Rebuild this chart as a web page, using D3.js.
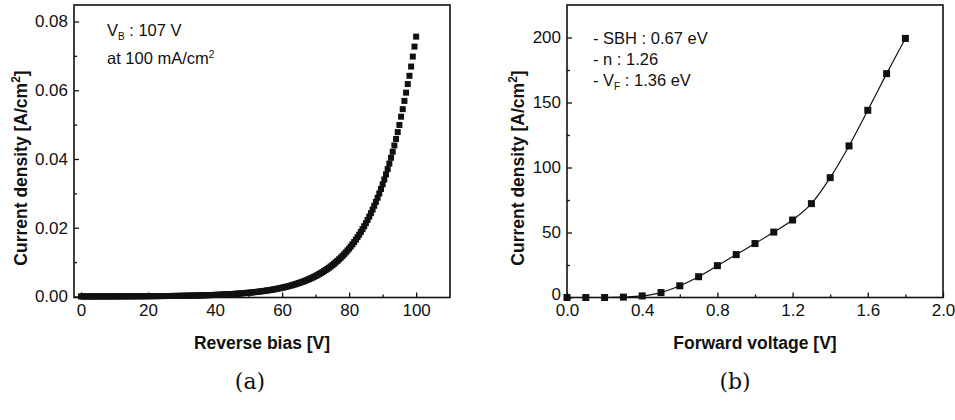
<!DOCTYPE html>
<html>
<head>
<meta charset="utf-8">
<script src="https://cdn.jsdelivr.net/npm/d3@7"></script>
<style>
  body { margin: 0; background: #fff; }
  svg { display: block; }
  .tick text { font-family: "Liberation Sans", Arial, sans-serif; font-size: 17px; fill: #111; }
  .tick line { stroke: #111; stroke-width: 1.3; }
  .ttl { font-family: "Liberation Sans", Arial, sans-serif; font-size: 17.5px; font-weight: bold; fill: #111; }
  .note { font-family: "Liberation Sans", Arial, sans-serif; font-size: 16.5px; fill: #111; }
  .cap { font-family: "DejaVu Serif", "Liberation Serif", serif; font-size: 22px; fill: #111; }
</style>
</head>
<body>
<div id="chart"></div>
<script>
// (a) reverse sweep, 0.5 V steps from 0 to 100 V
var reverseBias = d3.range(0, 100.01, 0.5);
var reverseCurrent = [
  0.00001,0.00001,0.00001,0.00001,0.00001,0.00001,0.00001,0.00001,0.00001,0.00001,
  0.00002,0.00002,0.00002,0.00002,0.00002,0.00002,0.00002,0.00002,0.00002,0.00002,
  0.00003,0.00003,0.00003,0.00003,0.00004,0.00004,0.00004,0.00004,0.00004,0.00005,
  0.00005,0.00005,0.00005,0.00006,0.00006,0.00006,0.00007,0.00007,0.00007,0.00008,
  0.00008,0.00008,0.00009,0.00009,0.00010,0.00010,0.00011,0.00011,0.00012,0.00012,
  0.00013,0.00013,0.00014,0.00014,0.00015,0.00015,0.00016,0.00017,0.00018,0.00019,
  0.00019,0.00020,0.00021,0.00022,0.00023,0.00024,0.00025,0.00026,0.00028,0.00029,
  0.00030,0.00031,0.00033,0.00034,0.00036,0.00037,0.00039,0.00040,0.00042,0.00044,
  0.00046,0.00048,0.00050,0.00052,0.00055,0.00057,0.00060,0.00062,0.00065,0.00068,
  0.00071,0.00074,0.00077,0.00080,0.00084,0.00088,0.00092,0.00096,0.00100,0.00104,
  0.00109,0.00113,0.00118,0.00123,0.00129,0.00134,0.00140,0.00146,0.00153,0.00160,
  0.00166,0.00173,0.00181,0.00189,0.00197,0.00206,0.00215,0.00224,0.00234,0.00244,
  0.00255,0.00266,0.00277,0.00289,0.00302,0.00315,0.00329,0.00343,0.00358,0.00374,
  0.00390,0.00407,0.00424,0.00442,0.00462,0.00482,0.00503,0.00525,0.00547,0.00571,
  0.00596,0.00622,0.00649,0.00677,0.00706,0.00737,0.00769,0.00802,0.00837,0.00873,
  0.00911,0.00951,0.00992,0.01035,0.01080,0.01127,0.01176,0.01227,0.01281,0.01337,
  0.01394,0.01455,0.01518,0.01584,0.01653,0.01725,0.01799,0.01878,0.01959,0.02044,
  0.02133,0.02226,0.02322,0.02423,0.02528,0.02638,0.02752,0.02872,0.02996,0.03126,
  0.03262,0.03404,0.03552,0.03706,0.03867,0.04035,0.04210,0.04393,0.04583,0.04782,
  0.0499,0.0523,0.0545,0.0569,0.0593,0.0618,0.0642,0.0669,0.0698,0.0727,
  0.0756
];

// (b) forward sweep
var forwardVoltage = [0, 0.1, 0.2, 0.3, 0.4, 0.5, 0.6, 0.7, 0.8, 0.9, 1.0, 1.1, 1.2, 1.3, 1.4, 1.5, 1.6, 1.7, 1.8];
var forwardCurrent = [0, 0, 0, 0.3, 1.2, 3.8, 9, 16, 24.5, 33, 41.5, 50.3, 59.6, 72.2, 92.2, 116.6, 144, 172.2, 199.3];

var leftXTicks = [0, 20, 40, 60, 80, 100];
var leftXMinor = [10, 30, 50, 70, 90];
var leftYTicks = [0, 0.02, 0.04, 0.06, 0.08];
var leftYMinor = [0.01, 0.03, 0.05, 0.07];
var rightXTicks = [0, 0.4, 0.8, 1.2, 1.6, 2.0];
var rightXMinor = [0.2, 0.6, 1.0, 1.4, 1.8];
var rightYTicks = [0, 50, 100, 150, 200];
var rightYMinor = [25, 75, 125, 175];

var W = 955, H = 420;
var svg = d3.select("#chart").append("svg").attr("width", W).attr("height", H);

function panel(o) {
  var x = d3.scaleLinear().domain(o.xd).range([o.l, o.r]);
  var y = d3.scaleLinear().domain(o.yd).range([o.b, o.t]);
  var g = svg.append("g");

  // minor ticks first
  g.append("g").attr("transform", "translate(0," + o.b + ")")
    .call(d3.axisBottom(x).tickValues(o.xMinor).tickSize(-3).tickFormat(""))
    .call(function(s){ s.select(".domain").remove() });
  g.append("g").attr("transform", "translate(" + o.l + ",0)")
    .call(d3.axisLeft(y).tickValues(o.yMinor).tickSize(-3).tickFormat(""))
    .call(function(s){ s.select(".domain").remove() });

  g.append("g").attr("transform", "translate(0," + o.b + ")")
    .call(d3.axisBottom(x).tickValues(o.xTicks).tickSize(-5).tickPadding(6).tickFormat(d3.format(o.xf)))
    .call(function(s){ s.select(".domain").remove() })
    .attr("font-size", null).attr("font-family", null);
  var ya = g.append("g").attr("transform", "translate(" + o.l + ",0)")
    .call(d3.axisLeft(y).tickValues(o.yTicks).tickSize(-5).tickPadding(6).tickFormat(d3.format(o.yf)))
    .call(function(s){ s.select(".domain").remove() })
    .attr("font-size", null).attr("font-family", null);
  // lift the bottom y label a little so it clears the x labels
  ya.selectAll(".tick text").filter(function(d){ return d === 0 }).attr("dy", o.zeroDy);

  g.append("rect")
    .attr("x", o.l).attr("y", o.t)
    .attr("width", o.r - o.l).attr("height", o.b - o.t)
    .attr("fill", "none").attr("stroke", "#111").attr("stroke-width", 1.6);

  g.append("text").attr("class", "ttl")
    .attr("x", (o.l + o.r) / 2).attr("y", 349)
    .attr("text-anchor", "middle").text(o.xTitle);

  var yt = g.append("text").attr("class", "ttl")
    .attr("transform", "translate(" + o.ytx + ",168) rotate(-90)")
    .attr("text-anchor", "middle");
  yt.append("tspan").text("Current density [A/cm");
  yt.append("tspan").attr("dy", -7).attr("font-size", 12).text("2");
  yt.append("tspan").attr("dy", 7).text("]");

  return {x: x, y: y, g: g};
}

// ---------- (a) ----------
var a = panel({
  l: 74, r: 450, t: 5, b: 297.5,
  xd: [-2.1, 110.1], yd: [-0.0003, 0.0848],
  xTicks: leftXTicks, xMinor: leftXMinor, yTicks: leftYTicks, yMinor: leftYMinor,
  xf: "d", yf: ".2f", xTitle: "Reverse bias [V]", ytx: 27, zeroDy: "0.32em"
});

a.g.selectAll("rect.pt")
  .data(reverseBias)
  .enter()
  .append("rect")
  .attr("class", "pt")
  .attr("x", function(d){ return a.x(d) - 3 })
  .attr("y", function(d, i){ return a.y(reverseCurrent[i]) - 3 })
  .attr("width", 6).attr("height", 6)
  .attr("fill", "#111");

var n1 = a.g.append("text").attr("class", "note").attr("x", 107).attr("y", 36);
n1.append("tspan").text("V");
n1.append("tspan").attr("dy", 4).attr("font-size", 10).text("B");
n1.append("tspan").attr("dy", -4).text(" : 107 V");
var n2 = a.g.append("text").attr("class", "note").attr("x", 107).attr("y", 64);
n2.append("tspan").text("at 100 mA/cm");
n2.append("tspan").attr("dy", -6).attr("font-size", 10).text("2");

// ---------- (b) ----------
var b = panel({
  l: 567, r: 943, t: 5, b: 297.5,
  xd: [0, 2], yd: [0, 225],
  xTicks: rightXTicks, xMinor: rightXMinor, yTicks: rightYTicks, yMinor: rightYMinor,
  xf: ".1f", yf: "d", xTitle: "Forward voltage [V]", ytx: 524, zeroDy: "0.1em"
});

var fwd = forwardVoltage.map(function(v, i){ return [v, forwardCurrent[i]] });

var line = d3.line()
  .x(function(d){ return b.x(d[0]) })
  .y(function(d){ return b.y(d[1]) })
  .curve(d3.curveMonotoneX);

b.g.append("path")
  .datum(fwd)
  .attr("d", line)
  .attr("fill", "none")
  .attr("stroke", "#111")
  .attr("stroke-width", 1.2);

b.g.selectAll("rect.pt")
  .data(fwd)
  .enter()
  .append("rect")
  .attr("class", "pt")
  .attr("x", function(d){ return b.x(d[0]) - 3.5 })
  .attr("y", function(d){ return b.y(d[1]) - 3.5 })
  .attr("width", 7).attr("height", 7)
  .attr("fill", "#111");

var s1 = b.g.append("text").attr("class", "note").attr("x", 593).attr("y", 44).text("- SBH : 0.67 eV");
var s2 = b.g.append("text").attr("class", "note").attr("x", 593).attr("y", 65).text("- n : 1.26");
var s3 = b.g.append("text").attr("class", "note").attr("x", 593).attr("y", 86);
s3.append("tspan").text("- V");
s3.append("tspan").attr("dy", 4).attr("font-size", 10).text("F");
s3.append("tspan").attr("dy", -4).text(" : 1.36 eV");

// captions
svg.append("text").attr("class", "cap").attr("x", 250).attr("y", 389).attr("text-anchor", "middle").text("(a)");
svg.append("text").attr("class", "cap").attr("x", 735).attr("y", 389).attr("text-anchor", "middle").text("(b)");
</script>
</body>
</html>
